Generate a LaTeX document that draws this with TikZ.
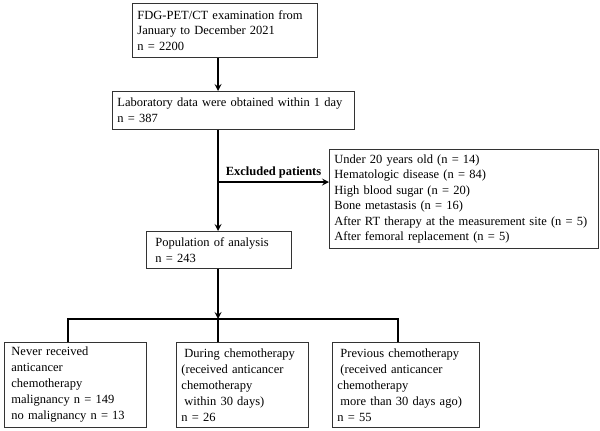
\documentclass[tikz,border=0pt]{standalone}
\usepackage{fontspec}
\setmainfont{Liberation Serif}
\usepackage{tikz}
\usetikzlibrary{arrows, calc}
\tikzstyle{box} = [rectangle, draw=black!80, line width=0.9pt, anchor=north west, align=left, inner xsep=5pt, inner ysep=0pt, font=\fontsize{12.5}{15.5}\selectfont]
\tikzstyle{arrow} = [line width=2pt,->,>=stealth]
\tikzstyle{link} = [line width=2pt]

\begin{document}
\begin{tikzpicture}[x=1pt, y=1pt]
  \useasboundingbox (0,0) rectangle (600,-431);

  \node (exam) [box, text width=175pt, minimum height=54pt] at (132,-3) {FDG-PET/CT examination from\\January to December 2021\\n = 2200};
  \node (lab) [box, text width=232pt, minimum height=38pt] at (112,-91) {Laboratory data were obtained within 1 day\\n = 387};
  \node (excl) [box, text width=259pt, minimum height=99pt] at (329,-149) {Under 20 years old (n = 14)\\Hematologic disease (n = 84)\\High blood sugar (n = 20)\\Bone metastasis (n = 16)\\After RT therapy at the measurement site (n = 5)\\After femoral replacement (n = 5)};
  \node (pop) [box, inner xsep=9pt, text width=127pt, minimum height=37pt] at (146,-231) {Population of analysis\\n = 243};

  \node (never) [box, inner xsep=7pt, text width=128pt, minimum height=85pt, font=\fontsize{12.5}{16}\selectfont] at (4,-342) {Never received\\anticancer\\chemotherapy\\malignancy n = 149\\no malignancy n = 13};
  \node (during) [box, text width=122pt, minimum height=85pt, font=\fontsize{12.5}{16}\selectfont] at (176,-342) {\hspace*{3pt}During chemotherapy\\(received anticancer\\chemotherapy\\\hspace*{3pt}within 30 days)\\n = 26};
  \node (prev) [box, text width=137pt, minimum height=85pt, font=\fontsize{12.5}{16}\selectfont] at (332,-342) {\hspace*{3pt}Previous chemotherapy\\\hspace*{3pt}(received anticancer\\chemotherapy\\\hspace*{3pt}more than 30 days ago)\\n = 55};

  % trunk and branch points
  \coordinate (spine) at (218,0);
  \coordinate (split) at (218,-182);
  \coordinate (fork) at (218,-319);
  \coordinate (forkL) at (68,-319);
  \coordinate (forkR) at (398,-319);

  \draw [arrow] (exam.south -| spine) -- (lab.north -| spine);
  \draw [arrow] (lab.south -| spine) -- (pop.north -| spine);
  \draw [arrow] (split) -- node[above, font=\fontsize{12.5}{15}\selectfont\bfseries] {Excluded patients} (split -| excl.west);
  \draw [arrow] (pop.south -| spine) -- (fork);
  \draw [link] ([xshift=-1pt]forkL) -- ([xshift=1pt]forkR);
  \draw [link] (forkL) -- (never.north -| forkL);
  \draw [link] (fork) -- (during.north -| fork);
  \draw [link] (forkR) -- (prev.north -| forkR);
\end{tikzpicture}
\end{document}
